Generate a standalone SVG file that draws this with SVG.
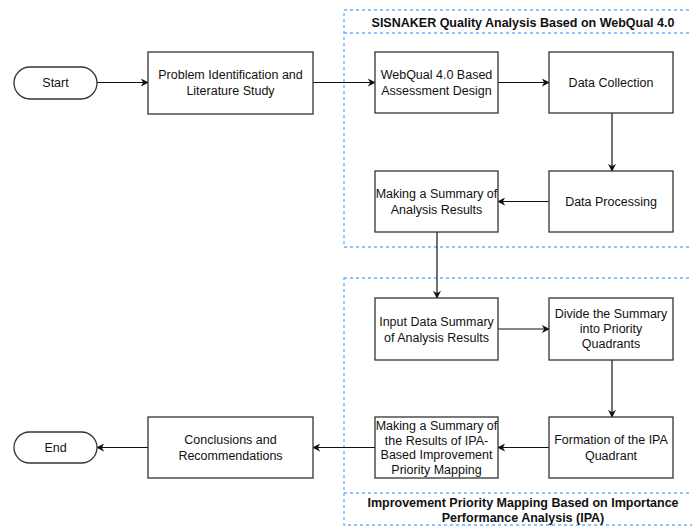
<svg xmlns="http://www.w3.org/2000/svg" width="692" height="528" viewBox="0 0 692 528">
<style>
.box{fill:#fff;stroke:#333;stroke-width:1.3}
.t{font-family:"Liberation Sans",Arial,sans-serif;font-size:12.5px;fill:#111;text-anchor:middle}
.h{font-family:"Liberation Sans",Arial,sans-serif;font-size:12.5px;font-weight:bold;fill:#111;text-anchor:middle}
.c{fill:none;stroke:#66b2ff;stroke-width:1.3;stroke-dasharray:3 3}
.e{fill:none;stroke:#111;stroke-width:1.2;marker-end:url(#a)}
</style>
<defs>
<marker id="a" viewBox="0 0 10 10" refX="9" refY="5" markerWidth="8" markerHeight="8" markerUnits="userSpaceOnUse" orient="auto">
<path d="M0,0 L10,5 L0,10 L3,5 z" fill="#111"/>
</marker>
</defs>
<g id="container1">
<rect class="c" x="344" y="10" width="360" height="237"/>
<line class="c" x1="344" y1="33" x2="704" y2="33"/>
<text class="h" x="523" y="27">SISNAKER Quality Analysis Based on WebQual 4.0</text>
</g>
<g id="container2">
<rect class="c" x="344" y="278" width="360" height="247"/>
<line class="c" x1="344" y1="493" x2="704" y2="493"/>
<text class="h" x="523" y="507">Improvement Priority Mapping Based on Importance</text>
<text class="h" x="523" y="522">Performance Analysis (IPA)</text>
</g>
<g id="connectors">
<line class="e" x1="97" y1="82.5" x2="148" y2="82.5"/>
<line class="e" x1="313" y1="82.5" x2="375" y2="82.5"/>
<line class="e" x1="498" y1="82.5" x2="549" y2="82.5"/>
<line class="e" x1="612" y1="113" x2="612" y2="171"/>
<line class="e" x1="549" y1="201.5" x2="498" y2="201.5"/>
<line class="e" x1="437" y1="232" x2="437" y2="298"/>
<line class="e" x1="498" y1="329" x2="549" y2="329"/>
<line class="e" x1="612" y1="360" x2="612" y2="417"/>
<line class="e" x1="549" y1="447.5" x2="498" y2="447.5"/>
<line class="e" x1="375" y1="447.5" x2="313" y2="447.5"/>
<line class="e" x1="148" y1="447.5" x2="97" y2="447.5"/>
</g>
<g id="start">
<rect class="box" x="14" y="67" width="83" height="32" rx="16"/>
<text class="t" x="55.5" y="87">Start</text>
</g>
<g id="problem">
<rect class="box" x="148" y="52" width="165" height="62"/>
<text class="t" x="230.5" y="79">Problem Identification and</text>
<text class="t" x="230.5" y="95">Literature Study</text>
</g>
<g id="webqual">
<rect class="box" x="375" y="52" width="123" height="61"/>
<text class="t" x="436.5" y="79">WebQual 4.0 Based</text>
<text class="t" x="436.5" y="95">Assessment Design</text>
</g>
<g id="collection">
<rect class="box" x="549" y="52" width="124" height="61"/>
<text class="t" x="611" y="87">Data Collection</text>
</g>
<g id="processing">
<rect class="box" x="549" y="171" width="124" height="61"/>
<text class="t" x="611" y="206">Data Processing</text>
</g>
<g id="summary1">
<rect class="box" x="375" y="171" width="123" height="61"/>
<text class="t" x="436.5" y="198">Making a Summary of</text>
<text class="t" x="436.5" y="214">Analysis Results</text>
</g>
<g id="input">
<rect class="box" x="375" y="298" width="123" height="62"/>
<text class="t" x="436.5" y="326">Input Data Summary</text>
<text class="t" x="436.5" y="342">of Analysis Results</text>
</g>
<g id="divide">
<rect class="box" x="549" y="298" width="124" height="62"/>
<text class="t" x="611" y="318">Divide the Summary</text>
<text class="t" x="611" y="333">into Priority</text>
<text class="t" x="611" y="348">Quadrants</text>
</g>
<g id="formation">
<rect class="box" x="549" y="417" width="124" height="61"/>
<text class="t" x="611" y="444">Formation of the IPA</text>
<text class="t" x="611" y="460">Quadrant</text>
</g>
<g id="summary2">
<rect class="box" x="375" y="417" width="123" height="61"/>
<text class="t" x="436.5" y="430">Making a Summary of</text>
<text class="t" x="436.5" y="444.5">the Results of IPA-</text>
<text class="t" x="436.5" y="459">Based Improvement</text>
<text class="t" x="436.5" y="473.5">Priority Mapping</text>
</g>
<g id="conclusions">
<rect class="box" x="148" y="417" width="165" height="61"/>
<text class="t" x="230.5" y="444">Conclusions and</text>
<text class="t" x="230.5" y="460">Recommendations</text>
</g>
<g id="end">
<rect class="box" x="14" y="432" width="83" height="31" rx="15.5"/>
<text class="t" x="55.5" y="452">End</text>
</g>
</svg>
